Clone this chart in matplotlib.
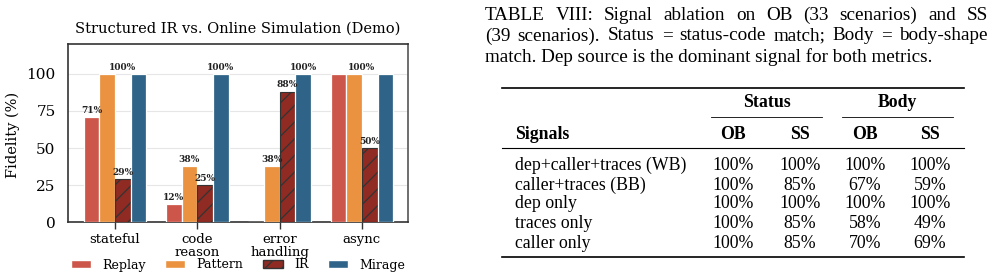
import matplotlib
matplotlib.use("Agg")
import matplotlib.pyplot as plt
import numpy as np
from matplotlib.lines import Line2D
from matplotlib.patches import Patch

W, H = 990, 278

# ---------------- chart data ----------------
categories = ["stateful", "code\nreason", "error\nhandling", "async"]
series_names = ["Replay", "Pattern", "IR", "Mirage"]
replay = [71, 12, 0, 100]
pattern = [100, 38, 38, 100]
ir = [29, 25, 88, 50]
mirage = [100, 100, 100, 100]
y_ticks = [0, 25, 50, 75, 100]
# value labels: (category index, slot within group, value)
label_cats = [0, 0, 0, 1, 1, 1, 1, 2, 2, 2, 3, 3]
label_slots = [0, 2, 2, 0, 1, 2, 3, 1, 2, 3, 1.5, 2]
label_vals = [71, 100, 29, 12, 38, 25, 100, 38, 88, 100, 100, 50]

# ---------------- table data ----------------
caption_lines = [
    "TABLE VIII: Signal ablation on OB (33 scenarios) and SS",
    "(39 scenarios). Status = status-code match; Body = body-shape",
    "match. Dep source is the dominant signal for both metrics.",
]
group_headers = ["Status", "Body"]
col_headers = ["Signals", "OB", "SS", "OB", "SS"]
row_labels = ["dep+caller+traces (WB)", "caller+traces (BB)", "dep only",
              "traces only", "caller only"]
status_ob = ["100%", "100%", "100%", "100%", "100%"]
status_ss = ["100%", "85%", "100%", "85%", "85%"]
body_ob = ["100%", "67%", "100%", "58%", "70%"]
body_ss = ["100%", "59%", "100%", "49%", "69%"]

colors = ["#cd564a", "#ea9240", "#8f2b22", "#2f6488"]

plt.rcParams["font.family"] = ["DejaVu Serif"]
plt.rcParams["hatch.color"] = "#333333"
plt.rcParams["hatch.linewidth"] = 0.9

fig = plt.figure(figsize=(W / 100, H / 100), dpi=100)


def fx(x):
    return x / W


def fy(y):
    return 1 - y / H


ax = fig.add_axes([fx(68), fy(222.3), fx(408) - fx(68), (222.3 - 44) / H])

x = np.arange(len(categories))
width = 0.19
series = [replay, pattern, ir, mirage]
for i, (name, vals, c) in enumerate(zip(series_names, series, colors)):
    off = (i - 1.5) * width
    if name == "IR":
        ax.bar(x + off, vals, width, color=c, edgecolor="#333333", linewidth=0.8,
               hatch="//", zorder=3, label=name)
    else:
        ax.bar(x + off, vals, width, color=c, edgecolor="white", linewidth=0.9,
               zorder=3, label=name)

for ci, slot, v in zip(label_cats, label_slots, label_vals):
    ax.annotate(f"{v}%", (x[ci] + (slot - 1.5) * width, v), xytext=(0, 1.5),
                textcoords="offset points", ha="center", va="bottom",
                fontsize=6.5, fontweight="bold", color="#222222", zorder=5)

ax.set_xlim(-0.57, 3.56)
ax.set_ylim(0, 120)
ax.set_yticks(y_ticks)
ax.set_xticks(x)
ax.set_xticklabels(categories, fontsize=9.5, linespacing=0.95)
ax.tick_params(axis="y", length=0, pad=9, labelsize=11)
ax.tick_params(axis="x", length=5, width=1, color="#333333", pad=3)
ax.yaxis.grid(True, color="#e6e6e6", linewidth=0.8, zorder=0)
ax.set_axisbelow(True)
for s in ["left", "top", "bottom"]:
    ax.spines[s].set_color("#333333")
    ax.spines[s].set_linewidth(1.2)
ax.spines["right"].set_color("#555555")
ax.spines["right"].set_linewidth(1.2)

fig.text(fx(238), fy(29), "Structured IR vs. Online Simulation (Demo)",
         ha="center", va="center", fontsize=10.5)
fig.text(fx(13), fy(135), "Fidelity (%)", rotation=90, ha="center",
         va="center", fontsize=10.5)

handles = [Patch(facecolor=colors[0], edgecolor="white"),
           Patch(facecolor=colors[1], edgecolor="white"),
           Patch(facecolor=colors[2], edgecolor="#333333", hatch="//"),
           Patch(facecolor=colors[3], edgecolor="white")]
fig.legend(handles, series_names, loc="center", bbox_to_anchor=(fx(238), fy(265)),
           ncol=4, frameon=False, fontsize=9, handlelength=1.6,
           handleheight=0.6, handletextpad=0.9, columnspacing=1.55)

# ---------------- table ----------------
SERIF = ["Liberation Serif", "DejaVu Serif"]
renderer = fig.canvas.get_renderer()


def line_text(text, x0, x1, y, size, justify):
    if not justify:
        fig.text(fx(x0), fy(y), text, fontsize=size, family=SERIF,
                 ha="left", va="baseline")
        return
    words = text.split(" ")
    objs = [fig.text(0, fy(y), w, fontsize=size, family=SERIF, ha="left",
                     va="baseline") for w in words]
    widths = [o.get_window_extent(renderer).width for o in objs]
    gap = (x1 - x0 - sum(widths)) / (len(words) - 1)
    cur = x0
    for o, w in zip(objs, widths):
        o.set_x(fx(cur))
        cur += w + gap


cap_base = [19.5, 40.5, 61.5]
for k, ln in enumerate(caption_lines):
    line_text(ln, 485, 988, cap_base[k], 13.8, k < len(caption_lines) - 1)


def hline(x0, x1, y, lw):
    fig.add_artist(Line2D([fx(x0), fx(x1)], [fy(y), fy(y)], color="black",
                          linewidth=lw, transform=fig.transFigure))


hline(502, 964, 87.5, 1.2)
hline(711, 822, 117, 0.6)
hline(842, 953, 117, 0.6)
hline(502, 964, 147.5, 0.8)
hline(502, 964, 257, 1.2)

TS = 12.8
fig.text(fx(767), fy(107), group_headers[0], fontsize=TS, family=SERIF,
         fontweight="bold", ha="center", va="baseline")
fig.text(fx(897), fy(107), group_headers[1], fontsize=TS, family=SERIF,
         fontweight="bold", ha="center", va="baseline")
col_x = [733, 800, 865, 930]
fig.text(fx(515), fy(139), col_headers[0], fontsize=TS, family=SERIF,
         fontweight="bold", ha="left", va="baseline")
for cx, hdr in zip(col_x, col_headers[1:]):
    fig.text(fx(cx), fy(139), hdr, fontsize=TS, family=SERIF,
             fontweight="bold", ha="center", va="baseline")

row_base = [170, 189.5, 208.5, 228, 247.5]
for r, lab in enumerate(row_labels):
    fig.text(fx(515), fy(row_base[r]), lab, fontsize=TS, family=SERIF,
             ha="left", va="baseline")
    for cx, col in zip(col_x, [status_ob, status_ss, body_ob, body_ss]):
        fig.text(fx(cx), fy(row_base[r]), col[r], fontsize=TS, family=SERIF,
                 ha="center", va="baseline")

fig.savefig("out.png", dpi=100)
